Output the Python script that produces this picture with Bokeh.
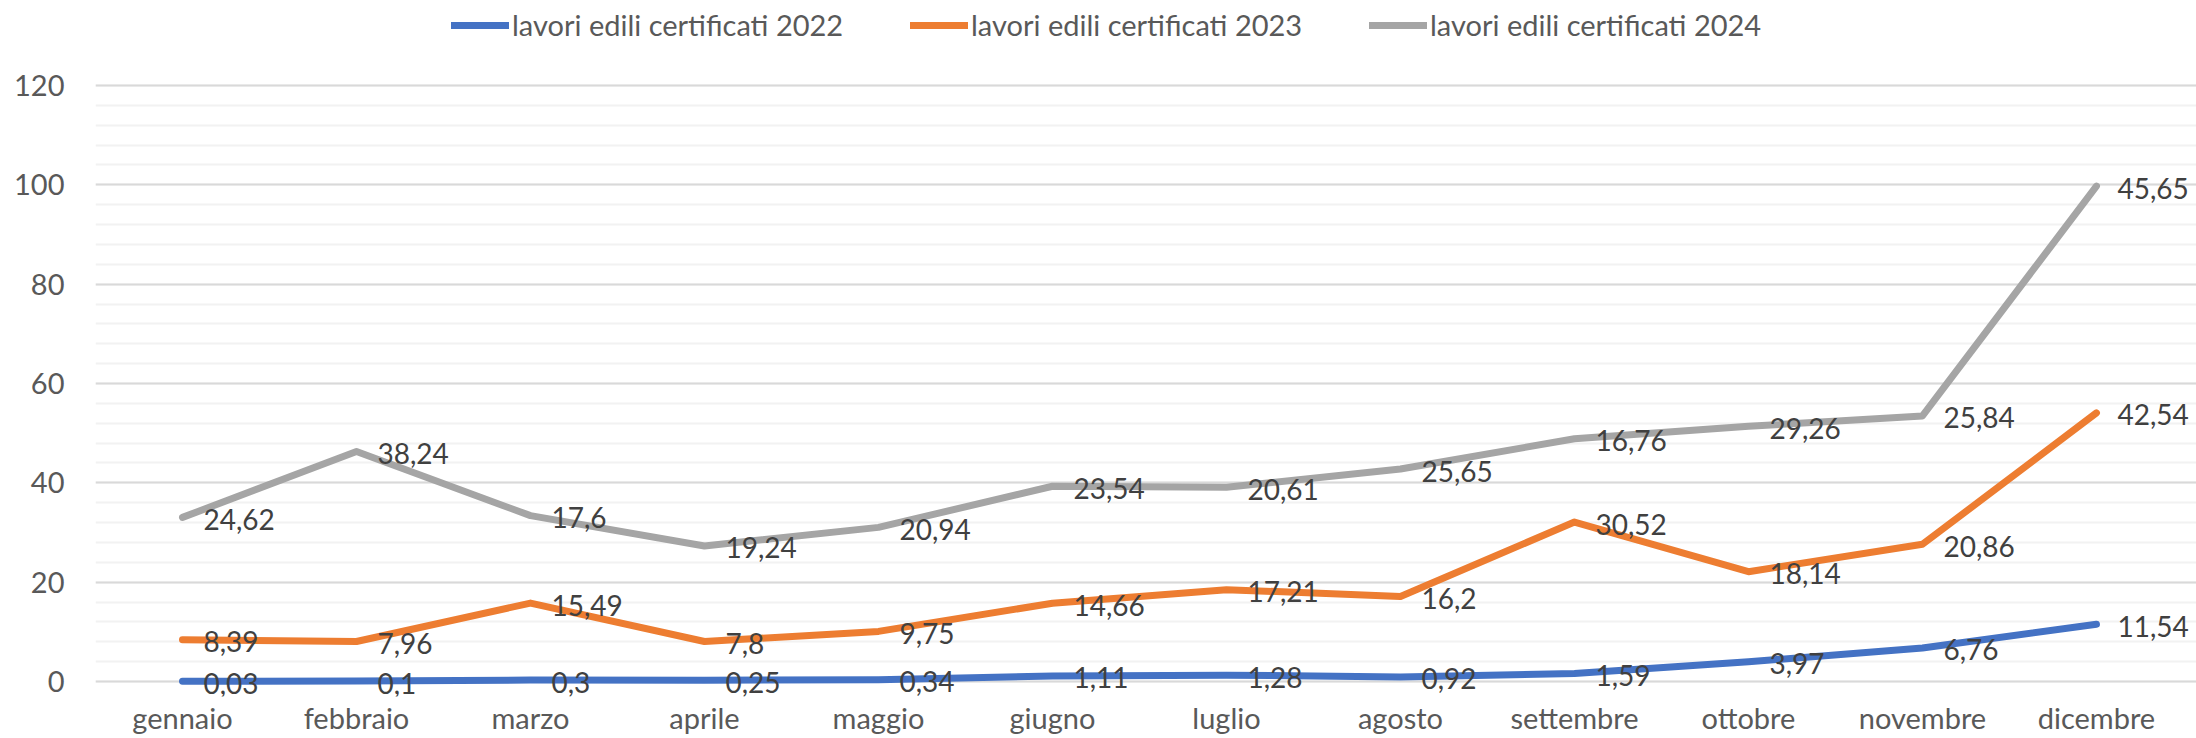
from bokeh.plotting import figure
from bokeh.models import ColumnDataSource, LabelSet, Legend, LegendItem, Range1d, FixedTicker
from bokeh.core.properties import value
from bokeh.embed import file_html
from bokeh.resources import INLINE

months = ["gennaio", "febbraio", "marzo", "aprile", "maggio", "giugno",
          "luglio", "agosto", "settembre", "ottobre", "novembre", "dicembre"]
v2022 = [0.03, 0.1, 0.3, 0.25, 0.34, 1.11, 1.28, 0.92, 1.59, 3.97, 6.76, 11.54]
v2023 = [8.39, 7.96, 15.49, 7.8, 9.75, 14.66, 17.21, 16.2, 30.52, 18.14, 20.86, 42.54]
v2024 = [24.62, 38.24, 17.6, 19.24, 20.94, 23.54, 20.61, 25.65, 16.76, 29.26, 25.84, 45.65]
series_names = ["lavori edili certificati 2022", "lavori edili certificati 2023",
                "lavori edili certificati 2024"]
colors = ["#4472C4", "#ED7D31", "#A5A5A5"]
y_ticks = [0, 20, 40, 60, 80, 100, 120]

FONT = "Lato"
FS = "29px"
LABEL_FS = "28px"

def fmt(v):
    return ("%g" % v).replace(".", ",")

idx = list(range(len(months)))
series = [v2022, v2023, v2024]
data = {"xi": idx, "month": months}
cum = [0.0] * len(months)
for i, s in enumerate(series):
    cum = [c + v for c, v in zip(cum, s)]
    data["y%d" % i] = cum
    data["t%d" % i] = [fmt(v) for v in s]
src = ColumnDataSource(data)

# frame spans the full height above the x labels; the legend sits in the empty top band
p = figure(x_range=Range1d(-0.5, len(months) - 0.5 + 0.075),
           y_range=Range1d(-3.02, 137.11), width=2196, height=738,
           output_backend="svg", toolbar_location=None,
           min_border_left=95, min_border_right=0, min_border_top=0, min_border_bottom=42)
p.outline_line_color = None
p.background_fill_color = "white"
p.border_fill_color = "white"

p.xgrid.grid_line_color = None
p.ygrid.grid_line_color = "#D9D9D9"
p.ygrid.grid_line_width = 2
p.ygrid.minor_grid_line_color = "#F2F2F2"
p.ygrid.minor_grid_line_width = 2

p.xaxis.ticker = FixedTicker(ticks=idx)
p.xaxis.major_label_overrides = {i: m for i, m in zip(idx, months)}
p.yaxis.ticker = FixedTicker(ticks=y_ticks, minor_ticks=list(range(0, 121, 4)))
for ax in (p.xaxis[0], p.yaxis[0]):
    ax.axis_line_color = None
    ax.major_tick_line_color = None
    ax.minor_tick_line_color = None
    ax.major_tick_out = 0
    ax.minor_tick_out = 0
    ax.major_label_text_font = FONT
    ax.major_label_text_font_size = FS
    ax.major_label_text_color = "#595959"
p.yaxis.major_label_standoff = 31
p.xaxis.major_label_standoff = 3

items = []
for i in range(3):
    r = p.line("xi", "y%d" % i, source=src, line_color=colors[i], line_width=7,
               line_cap="round", line_join="round")
    items.append(LegendItem(label=series_names[i], renderers=[r]))
    lbl = LabelSet(x="xi", y="y%d" % i, text="t%d" % i, source=src,
                   x_offset=21, y_offset=-2, text_baseline="middle", text_align="left",
                   text_font=value(FONT), text_font_size=value(LABEL_FS), text_color="#404040")
    p.add_layout(lbl)

legend = Legend(items=items, orientation="horizontal", location=(356, 654),
                glyph_width=58, glyph_height=34, label_standoff=3, spacing=65,
                label_width=333, padding=0, margin=0, border_line_color=None,
                background_fill_alpha=0,
                label_text_font=FONT, label_text_font_size=FS, label_text_color="#595959")
p.add_layout(legend, "center")

open("out.html", "w").write(file_html(p, INLINE))
